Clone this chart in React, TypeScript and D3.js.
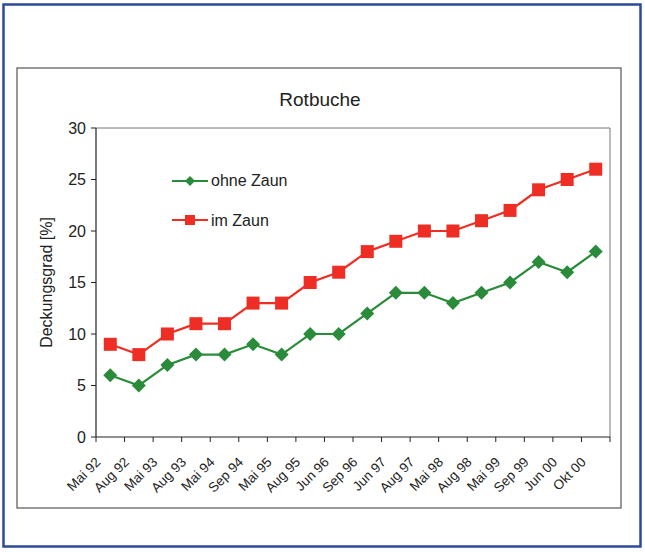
import React from "react";
import * as d3 from "d3";

const categories = ["Mai 92","Aug 92","Mai 93","Aug 93","Mai 94","Sep 94","Mai 95","Aug 95","Jun 96","Sep 96","Jun 97","Aug 97","Mai 98","Aug 98","Mai 99","Sep 99","Jun 00","Okt 00"];
const ohneZaun = [6,5,7,8,8,9,8,10,10,12,14,14,13,14,15,17,16,18];
const imZaun = [9,8,10,11,11,13,13,15,16,18,19,20,20,21,22,24,25,26];
const yTicks = [0,5,10,15,20,25,30];

const W = 645, H = 552;
const plot = { left: 96, right: 610, top: 128, bottom: 437 };
const GREEN = "#2a8b3b";
const RED = "#ee2e24";
const FONT = "Liberation Sans, Arial, sans-serif";

export default function App() {
  const x = d3.scaleBand<string>().domain(categories).range([plot.left, plot.right]);
  const y = d3.scaleLinear().domain([0, 30]).range([plot.bottom, plot.top]);
  const cx = (c: string) => (x(c) as number) + x.bandwidth() / 2;
  const line = d3.line<number>().x((_, i) => cx(categories[i])).y((d) => y(d));
  const diamond = (px: number, py: number, r: number) => `M${px},${py - r}L${px + r},${py}L${px},${py + r}L${px - r},${py}Z`;
  const sq = 6.5;
  const boundaries = categories.map((c) => x(c) as number).concat([plot.right]);

  return (
    <svg width={W} height={H} style={{ position: "absolute", left: 0, top: 0, background: "#fff" }} fontFamily={FONT}>
      <rect x={3.5} y={4.5} width={637} height={542} fill="#fff" stroke="#2d4a9b" strokeWidth={2.5} />
      <rect x={17} y={68} width={604} height={440} fill="#fff" stroke="#555" strokeWidth={1.2} />
      <text x={320} y={106} textAnchor="middle" fontSize={19} fill="#222">Rotbuche</text>
      {/* plot frame */}
      <line x1={plot.left} x2={plot.right} y1={plot.top} y2={plot.top} stroke="#777" strokeWidth={1} />
      <line x1={plot.right} x2={plot.right} y1={plot.top} y2={plot.bottom} stroke="#777" strokeWidth={1} />
      <line x1={plot.left} x2={plot.left} y1={plot.top} y2={plot.bottom} stroke="#222" strokeWidth={1.2} />
      <line x1={plot.left} x2={plot.right} y1={plot.bottom} y2={plot.bottom} stroke="#222" strokeWidth={1.2} />
      {yTicks.map((t) => (
        <g key={t}>
          <line x1={plot.left - 5} x2={plot.left} y1={y(t)} y2={y(t)} stroke="#222" />
          <text x={plot.left - 10} y={y(t) + 5.5} textAnchor="end" fontSize={16} fill="#222">{t}</text>
        </g>
      ))}
      {boundaries.map((b, i) => (
        <line key={i} x1={b} x2={b} y1={plot.bottom} y2={plot.bottom + 5} stroke="#222" />
      ))}
      {categories.map((c) => (
        <text key={c} transform={`translate(${cx(c) - 9},${plot.bottom + 26}) rotate(-45)`} textAnchor="end" fontSize={13.5} fill="#222">{c}</text>
      ))}
      <text transform={`translate(52,${(plot.top + plot.bottom) / 2}) rotate(-90)`} textAnchor="middle" fontSize={16} fill="#222">Deckungsgrad [%]</text>
      <path d={line(ohneZaun) || ""} fill="none" stroke={GREEN} strokeWidth={2.2} />
      <path d={line(imZaun) || ""} fill="none" stroke={RED} strokeWidth={2.2} />
      {ohneZaun.map((v, i) => (
        <path key={"g" + i} d={diamond(cx(categories[i]), y(v), 7)} fill={GREEN} />
      ))}
      {imZaun.map((v, i) => (
        <rect key={"r" + i} x={cx(categories[i]) - sq} y={y(v) - sq} width={sq * 2} height={sq * 2} fill={RED} />
      ))}
      {/* legend */}
      <line x1={172} x2={208} y1={181} y2={181} stroke={GREEN} strokeWidth={2.2} />
      <path d={diamond(190, 181, 5)} fill={GREEN} />
      <text x={211} y={186} fontSize={16} fill="#222">ohne Zaun</text>
      <line x1={172} x2={208} y1={220} y2={220} stroke={RED} strokeWidth={2.2} />
      <rect x={185} y={215} width={10} height={10} fill={RED} />
      <text x={211} y={225.5} fontSize={16} fill="#222">im Zaun</text>
    </svg>
  );
}
